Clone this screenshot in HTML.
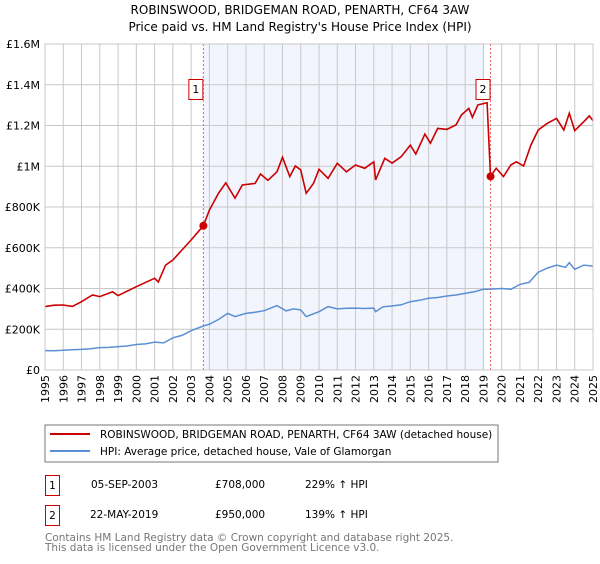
<!DOCTYPE html>
<html><head><meta charset="utf-8"><style>
body{margin:0;background:#fff;font-family:"DejaVu Sans","Liberation Sans",sans-serif;}
svg text{font-family:"DejaVu Sans","Liberation Sans",sans-serif;}
</style></head><body>
<svg id="c" width="600" height="560" xmlns="http://www.w3.org/2000/svg">
<text x="300" y="14" text-anchor="middle" font-size="12">ROBINSWOOD, BRIDGEMAN ROAD, PENARTH, CF64 3AW</text>
<text x="300" y="31" text-anchor="middle" font-size="12">Price paid vs. HM Land Registry's House Price Index (HPI)</text>
<g id="plot"></g>
<rect x="45" y="425" width="453" height="37" fill="#fff" stroke="#777"/>
<line x1="50" y1="434" x2="90" y2="434" stroke="#cc0000" stroke-width="2"/>
<text x="100" y="438" font-size="10.5">ROBINSWOOD, BRIDGEMAN ROAD, PENARTH, CF64 3AW (detached house)</text>
<line x1="50" y1="451" x2="90" y2="451" stroke="#5b8fd4" stroke-width="2"/>
<text x="100" y="455" font-size="10.5">HPI: Average price, detached house, Vale of Glamorgan</text>
<g font-size="10.5">
<rect x="45.5" y="475.5" width="14" height="20" fill="#fff" stroke="#cc0000"/>
<text x="52.5" y="489" text-anchor="middle">1</text>
<text x="91" y="488">05-SEP-2003</text>
<text x="215" y="488">£708,000</text>
<text x="305" y="488">229% ↑ HPI</text>
<rect x="45.5" y="505.5" width="14" height="20" fill="#fff" stroke="#cc0000"/>
<text x="52.5" y="519" text-anchor="middle">2</text>
<text x="90" y="518">22-MAY-2019</text>
<text x="215" y="518">£950,000</text>
<text x="305" y="518">139% ↑ HPI</text>
</g>
<text x="45" y="541" font-size="10.5" fill="#777">Contains HM Land Registry data © Crown copyright and database right 2025.</text>
<text x="45" y="551" font-size="10.5" fill="#777">This data is licensed under the Open Government Licence v3.0.</text>
</svg>
<script>
const yTicks=[0,200000,400000,600000,800000,1000000,1200000,1400000,1600000];
const yTickLabels=["£0","£200K","£400K","£600K","£800K","£1M","£1.2M","£1.4M","£1.6M"];
const xYears=[1995,1996,1997,1998,1999,2000,2001,2002,2003,2004,2005,2006,2007,2008,2009,2010,2011,2012,2013,2014,2015,2016,2017,2018,2019,2020,2021,2022,2023,2024,2025];
const hpiDates=[1995,1995.5,1996,1996.5,1997,1997.5,1998,1998.5,1999,1999.5,2000,2000.5,2001,2001.5,2002,2002.5,2003,2003.67,2004,2004.5,2005,2005.4,2006,2006.5,2007,2007.7,2008.2,2008.6,2009,2009.3,2010,2010.5,2011,2011.5,2012,2012.5,2013,2013.1,2013.5,2014,2014.5,2015,2015.5,2016,2016.5,2017,2017.5,2018,2018.5,2019,2019.39,2020,2020.5,2021,2021.5,2022,2022.5,2023,2023.5,2023.7,2024,2024.5,2025];
const hpiValues=[95000,94000,97000,99000,101000,104000,110000,111000,115000,118000,125000,128000,137000,133000,158000,170000,193000,216000,225000,248000,278000,262000,278000,283000,291000,316000,290000,300000,295000,262000,286000,311000,300000,303000,304000,302000,304000,286000,310000,314000,320000,335000,342000,352000,356000,363000,368000,376000,384000,396000,397000,400000,396000,420000,430000,480000,500000,515000,504000,527000,494000,515000,510000];
const redDates=[1995,1995.5,1996,1996.5,1997,1997.6,1998,1998.7,1999,2000,2001,2001.2,2001.6,2002,2002.5,2003,2003.67,2004,2004.5,2004.9,2005.4,2005.8,2006.5,2006.8,2007.2,2007.7,2008,2008.4,2008.7,2009,2009.3,2009.7,2010,2010.5,2011,2011.5,2012,2012.5,2013,2013.1,2013.6,2014,2014.5,2015,2015.3,2015.8,2016.1,2016.5,2017,2017.5,2017.8,2018.2,2018.4,2018.7,2019.2,2019.39,2019.7,2020.1,2020.5,2020.8,2021.2,2021.6,2022,2022.5,2023,2023.4,2023.7,2024,2024.5,2024.8,2025];
const redValues=[311000,318000,319000,312000,335000,368000,360000,384000,365000,409000,450000,432000,515000,540000,589000,638000,708000,785000,867000,919000,843000,908000,916000,962000,931000,973000,1044000,949000,1001000,982000,867000,916000,985000,941000,1015000,973000,1006000,990000,1022000,933000,1039000,1015000,1047000,1104000,1060000,1158000,1113000,1186000,1181000,1203000,1252000,1284000,1240000,1301000,1312000,950000,990000,949000,1006000,1022000,1001000,1104000,1178000,1211000,1235000,1178000,1260000,1175000,1219000,1247000,1224000];
const saleDates=[2003.67,2019.39];
const salePrices=[708000,950000];
const saleLabels=["1","2"];

const NS="http://www.w3.org/2000/svg";
const L=45,R=593,T=44,B=370;
const xs=d=>L+(d-1995)/30*(R-L);
const ys=v=>B-v/1600000*(B-T);
const g=document.getElementById('plot');
function mk(tag,attrs){const e=document.createElementNS(NS,tag);for(const k in attrs)e.setAttribute(k,attrs[k]);g.appendChild(e);return e;}
let e;
e=mk('rect',{x:L,y:T,width:R-L,height:B-T,fill:'#fff'});


e=mk('rect',{x:xs(saleDates[0]),y:T,width:xs(2019.05)-xs(saleDates[0]),height:B-T,fill:'#f2f5fd'});


yTicks.forEach((t,i)=>{
 e=mk('line',{x1:L,x2:R,y1:ys(t),y2:ys(t),stroke:'#c8c8c8'});
 
 
 e=mk('text',{x:L-5,y:ys(t)+4,'text-anchor':'end','font-size':'11'});
 e.textContent=yTickLabels[i];
 
 
});
xYears.forEach(yr=>{
 e=mk('line',{x1:xs(yr),x2:xs(yr),y1:T,y2:B,stroke:'#c8c8c8'});
 
 
 e=mk('text',{x:0,y:0,'text-anchor':'end','font-size':'11',transform:`translate(${xs(yr)+4},${B+5}) rotate(-90)`});
 e.textContent=yr;
 
 
});
saleDates.forEach((d,i)=>{
 e=mk('line',{x1:xs(d),x2:xs(d),y1:T,y2:B,stroke:'#f06060','stroke-dasharray':'2,2'});
 
 
});
const pts=(D,V)=>D.map((d,i)=>xs(d).toFixed(1)+','+ys(V[i]).toFixed(1)).join(' ');
e=mk('polyline',{points:pts(hpiDates,hpiValues),fill:'none',stroke:'#5b8fd4','stroke-width':1.5});


e=mk('polyline',{points:pts(redDates,redValues),fill:'none',stroke:'#cc0000','stroke-width':1.6});


saleDates.forEach((d,i)=>{
 e=mk('circle',{cx:xs(d),cy:ys(salePrices[i]),r:4,fill:'#cc0000'});
 
 
 e=mk('rect',{x:xs(d)-14.5,y:79.5,width:14,height:20,fill:'#fff',stroke:'#cc0000'});
 
 
 e=mk('text',{x:xs(d)-7.5,y:93,'text-anchor':'middle','font-size':'11'});
 e.textContent=saleLabels[i];
 
 
});
e=mk('rect',{x:L,y:T,width:R-L,height:B-T,fill:'none',stroke:'#c8c8c8'});


</script>
</body></html>
